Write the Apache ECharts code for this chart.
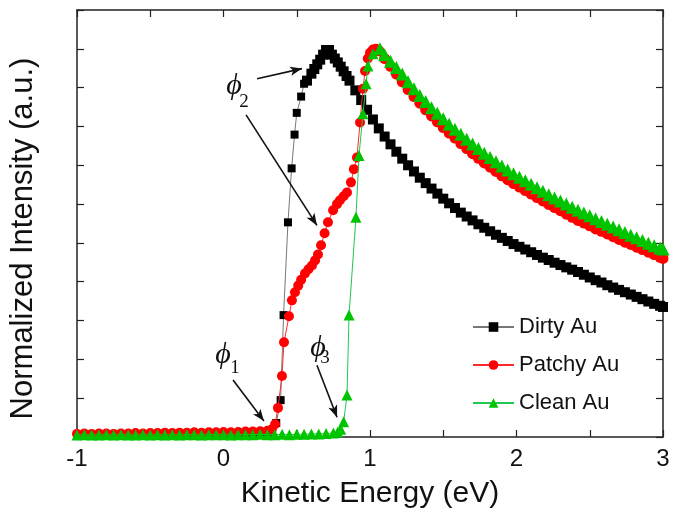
<!DOCTYPE html>
<html>
<head>
<meta charset="utf-8">
<script src="https://cdn.jsdelivr.net/npm/echarts@6/dist/echarts.min.js"></script>
<style>
  html, body { margin: 0; padding: 0; background: #fff; }
  #chart { width: 683px; height: 521px; }
</style>
</head>
<body>
<div id="chart"></div>
<script>
// Dirty Au (black squares)
const dirtyEnergy = [
  -1.00, -0.95, -0.90, -0.85, -0.80, -0.75, -0.70, -0.65, -0.60, -0.55,
  -0.50, -0.45, -0.40, -0.35, -0.30, -0.25, -0.20, -0.15, -0.10, -0.05,
  0.00, 0.05, 0.10, 0.15, 0.20, 0.25, 0.30,
  0.33, 0.36, 0.39, 0.41, 0.44, 0.465, 0.485, 0.50, 0.53, 0.55,
  0.57, 0.60, 0.62, 0.64, 0.66, 0.68, 0.70, 0.72, 0.74, 0.76, 0.78, 0.80, 0.82, 0.84, 0.86,
  0.90, 0.94, 0.98, 1.02, 1.06, 1.10, 1.14, 1.18, 1.22, 1.26,
  1.30, 1.34, 1.38, 1.42, 1.46, 1.50, 1.54, 1.58, 1.62, 1.66,
  1.70, 1.74, 1.78, 1.82, 1.86, 1.90, 1.94, 1.98, 2.02, 2.06,
  2.10, 2.14, 2.18, 2.22, 2.26, 2.30, 2.34, 2.38, 2.42, 2.46,
  2.50, 2.54, 2.58, 2.62, 2.66, 2.70, 2.74, 2.78, 2.82, 2.86,
  2.90, 2.94, 2.98, 3.00
];
const dirtyIntensity = [
  0.005, 0.006, 0.006, 0.005, 0.006, 0.006, 0.005, 0.006, 0.006, 0.006,
  0.005, 0.006, 0.006, 0.006, 0.006, 0.007, 0.006, 0.006, 0.007, 0.006,
  0.007, 0.007, 0.007, 0.008, 0.008, 0.009, 0.010,
  0.014, 0.036, 0.095, 0.314, 0.553, 0.692, 0.779, 0.835, 0.877, 0.910,
  0.918, 0.936, 0.948, 0.960, 0.972, 0.985, 0.997, 0.997, 0.985, 0.975, 0.965, 0.954, 0.942, 0.930, 0.918,
  0.893, 0.868, 0.843, 0.818, 0.795, 0.774, 0.754, 0.735, 0.717, 0.700,
  0.684, 0.668, 0.654, 0.640, 0.627, 0.614, 0.602, 0.590, 0.578, 0.568,
  0.558, 0.548, 0.539, 0.530, 0.521, 0.513, 0.505, 0.497, 0.490, 0.483,
  0.476, 0.469, 0.462, 0.456, 0.449, 0.443, 0.437, 0.431, 0.425, 0.418,
  0.411, 0.404, 0.398, 0.391, 0.385, 0.379, 0.373, 0.367, 0.361, 0.355,
  0.349, 0.343, 0.338, 0.335
];

// Patchy Au (red circles)
const patchyEnergy = [
  -1.00, -0.95, -0.90, -0.85, -0.80, -0.75, -0.70, -0.65, -0.60, -0.55,
  -0.50, -0.45, -0.40, -0.35, -0.30, -0.25, -0.20, -0.15, -0.10, -0.05,
  0.00, 0.05, 0.10, 0.15, 0.20, 0.25, 0.30,
  0.33, 0.352, 0.372, 0.399, 0.413, 0.447, 0.467, 0.488, 0.51, 0.53,
  0.556, 0.58, 0.604, 0.625, 0.645, 0.666, 0.69, 0.713, 0.748, 0.775,
  0.795, 0.82, 0.843, 0.87, 0.89, 0.911, 0.932, 0.952, 0.966, 0.985,
  1.00, 1.02, 1.04,
  1.06, 1.10, 1.14, 1.18, 1.22, 1.26, 1.30, 1.34, 1.38, 1.42,
  1.46, 1.50, 1.54, 1.58, 1.62, 1.66, 1.70, 1.74, 1.78, 1.82,
  1.86, 1.90, 1.94, 1.98, 2.02, 2.06, 2.10, 2.14, 2.18, 2.22,
  2.26, 2.30, 2.34, 2.38, 2.42, 2.46, 2.50, 2.54, 2.58, 2.62,
  2.66, 2.70, 2.74, 2.78, 2.82, 2.86, 2.90, 2.94, 2.98, 3.00
];
const patchyIntensity = [
  0.008, 0.009, 0.008, 0.009, 0.009, 0.008, 0.009, 0.009, 0.010, 0.009,
  0.010, 0.010, 0.011, 0.010, 0.011, 0.011, 0.012, 0.011, 0.012, 0.012,
  0.013, 0.012, 0.013, 0.014, 0.014, 0.015, 0.016,
  0.020, 0.033, 0.075, 0.157, 0.244, 0.311, 0.352, 0.373, 0.390, 0.405,
  0.421, 0.432, 0.442, 0.455, 0.470, 0.494, 0.525, 0.553, 0.584, 0.600,
  0.610, 0.620, 0.630, 0.656, 0.690, 0.720, 0.810, 0.897, 0.943, 0.975,
  0.990, 0.998, 1.000,
  0.995, 0.975, 0.955, 0.935, 0.915, 0.895, 0.877, 0.860, 0.843, 0.827,
  0.812, 0.797, 0.783, 0.770, 0.756, 0.743, 0.730, 0.718, 0.706, 0.695,
  0.684, 0.673, 0.663, 0.653, 0.644, 0.635, 0.626, 0.617, 0.608, 0.599,
  0.591, 0.583, 0.574, 0.566, 0.558, 0.551, 0.544, 0.536, 0.530, 0.523,
  0.516, 0.509, 0.502, 0.496, 0.489, 0.483, 0.476, 0.470, 0.463, 0.460
];

// Clean Au (green triangles)
const cleanEnergy = [
  -1.00, -0.95, -0.90, -0.85, -0.80, -0.75, -0.70, -0.65, -0.60, -0.55,
  -0.50, -0.45, -0.40, -0.35, -0.30, -0.25, -0.20, -0.15, -0.10, -0.05,
  0.00, 0.05, 0.10, 0.15, 0.20, 0.25, 0.30, 0.35, 0.40, 0.45,
  0.50, 0.55, 0.60, 0.65, 0.70, 0.75,
  0.78, 0.80, 0.82, 0.843, 0.857, 0.904, 0.925, 0.952, 0.973, 0.986,
  1.02, 1.068,
  1.10, 1.14, 1.18, 1.22, 1.26, 1.30, 1.34, 1.38, 1.42, 1.46,
  1.50, 1.54, 1.58, 1.62, 1.66, 1.70, 1.74, 1.78, 1.82, 1.86,
  1.90, 1.94, 1.98, 2.02, 2.06, 2.10, 2.14, 2.18, 2.22, 2.26,
  2.30, 2.34, 2.38, 2.42, 2.46, 2.50, 2.54, 2.58, 2.62, 2.66,
  2.70, 2.74, 2.78, 2.82, 2.86, 2.90, 2.94, 2.98, 3.00
];
const cleanIntensity = [
  0.005, 0.006, 0.005, 0.005, 0.006, 0.005, 0.006, 0.005, 0.005, 0.006,
  0.005, 0.006, 0.005, 0.006, 0.005, 0.006, 0.006, 0.005, 0.006, 0.006,
  0.006, 0.005, 0.006, 0.006, 0.006, 0.007, 0.006, 0.006, 0.007, 0.006,
  0.007, 0.007, 0.008, 0.008, 0.009, 0.010,
  0.013, 0.020, 0.039, 0.108, 0.314, 0.566, 0.725, 0.833, 0.910, 0.956,
  0.987, 1.000,
  0.985, 0.968, 0.952, 0.935, 0.915, 0.897, 0.880, 0.864, 0.848, 0.834,
  0.820, 0.806, 0.793, 0.780, 0.767, 0.755, 0.743, 0.731, 0.720, 0.709,
  0.698, 0.688, 0.678, 0.669, 0.660, 0.651, 0.642, 0.633, 0.624, 0.616,
  0.608, 0.600, 0.592, 0.584, 0.577, 0.570, 0.562, 0.555, 0.548, 0.541,
  0.534, 0.527, 0.520, 0.513, 0.506, 0.499, 0.493, 0.487, 0.484
];

// annotation arrows (data coords: [from, to]) and phi labels
const arrowLines = [
  [[0.229, 0.923], [0.536, 0.949]],
  [[0.154, 0.830], [0.638, 0.545]],
  [[0.065, 0.147], [0.276, 0.041]],
  [[0.638, 0.185], [0.775, 0.051]]
];
const phiLabels = [
  { at: [0.072, 0.905], sub: '2', subAt: [0.140, 0.864] },
  { at: [-0.003, 0.211], sub: '1', subAt: [0.079, 0.177] },
  { at: [0.645, 0.229], sub: '3', subAt: [0.693, 0.203] }
];

const pairs = (xs, ys) => xs.map((x, i) => [x, ys[i]]);

const font = 'Liberation Sans, Arial, sans-serif';
const serif = 'Liberation Serif, DejaVu Serif, serif';
const axisColor = '#222';

const myChart = echarts.init(document.getElementById('chart'));

const markPointData = [];
phiLabels.forEach(p => {
  markPointData.push({
    coord: p.at,
    label: { formatter: '\u03D5', fontFamily: serif, fontStyle: 'italic', fontSize: 30, color: '#111' }
  });
  markPointData.push({
    coord: p.subAt,
    label: { formatter: p.sub, fontFamily: serif, fontSize: 19, color: '#111' }
  });
});

const xAxisBase = {
  type: 'value',
  min: -1,
  max: 3,
  interval: 1,
  axisLine: { show: true, onZero: false, lineStyle: { color: axisColor, width: 1.5 } },
  axisTick: { show: true, inside: true, length: 7, lineStyle: { color: axisColor, width: 1.2 } },
  minorTick: { show: true, splitNumber: 2, length: 7, lineStyle: { color: axisColor, width: 1.2 } },
  splitLine: { show: false }
};
const yAxisBase = {
  type: 'value',
  min: 0,
  max: 1.1,
  interval: 0.1,
  axisLine: { show: true, onZero: false, lineStyle: { color: axisColor, width: 1.5 } },
  axisTick: { show: true, inside: true, length: 7, lineStyle: { color: axisColor, width: 1.2 } },
  axisLabel: { show: false },
  splitLine: { show: false }
};

// dense tail of each curve draws as a thick band of overlapping markers
const sizeBy = (small, big, from) => v => (v[0] >= from ? big : small);

myChart.setOption({
  animation: false,
  backgroundColor: '#fff',
  grid: { left: 77, right: 20, top: 10, bottom: 84 },
  legend: {
    data: ['Dirty Au', 'Patchy Au', 'Clean Au'],
    orient: 'vertical',
    left: 472,
    top: 316,
    padding: 0,
    itemWidth: 41,
    itemHeight: 12,
    itemGap: 16,
    textStyle: { fontSize: 22, fontFamily: font, color: '#111', lineHeight: 22 }
  },
  xAxis: [
    Object.assign({}, xAxisBase, {
      position: 'bottom',
      axisLabel: { fontSize: 24, fontFamily: font, color: '#111', margin: 10 },
      name: 'Kinetic Energy (eV)',
      nameLocation: 'middle',
      nameGap: 42,
      nameTextStyle: { fontSize: 30, fontFamily: font, color: '#111' }
    }),
    Object.assign({}, xAxisBase, { position: 'top', axisLabel: { show: false } })
  ],
  yAxis: [
    Object.assign({}, yAxisBase, {
      position: 'left',
      name: 'Normalized Intensity (a.u.)',
      nameLocation: 'middle',
      nameGap: 38,
      nameTextStyle: { fontSize: 31, fontFamily: font, color: '#111', padding: [0, 30, 0, 0] }
    }),
    Object.assign({}, yAxisBase, { position: 'right' })
  ],
  series: [
    {
      name: 'Dirty Au',
      type: 'line',
      data: pairs(dirtyEnergy, dirtyIntensity),
      symbol: 'rect',
      symbolSize: sizeBy(8, 10, 0.56),
      itemStyle: { color: '#000' },
      lineStyle: { color: '#777', width: 1 },
      z: 2
    },
    {
      name: 'Patchy Au',
      type: 'line',
      data: pairs(patchyEnergy, patchyIntensity),
      symbol: 'circle',
      symbolSize: sizeBy(10, 11, 1.05),
      itemStyle: { color: '#ff0000' },
      lineStyle: { color: '#ff2a2a', width: 1 },
      z: 3
    },
    {
      name: 'Clean Au',
      type: 'line',
      data: pairs(cleanEnergy, cleanIntensity),
      symbol: 'triangle',
      symbolSize: sizeBy(11, 13, 1.05),
      itemStyle: { color: '#00c400' },
      lineStyle: { color: '#1fc850', width: 1 },
      z: 4
    },
    {
      name: 'annotations',
      type: 'line',
      data: [],
      z: 5,
      markLine: {
        silent: true,
        symbol: ['none', 'arrow'],
        symbolSize: [7, 12],
        label: { show: false },
        lineStyle: { color: '#111', width: 1.6, type: 'solid' },
        data: arrowLines.map(a => [{ coord: a[0] }, { coord: a[1] }])
      },
      markPoint: {
        silent: true,
        symbol: 'circle',
        symbolSize: 1,
        itemStyle: { color: 'rgba(0,0,0,0)' },
        label: { show: true, position: 'inside' },
        data: markPointData
      }
    }
  ]
});
</script>
</body>
</html>
